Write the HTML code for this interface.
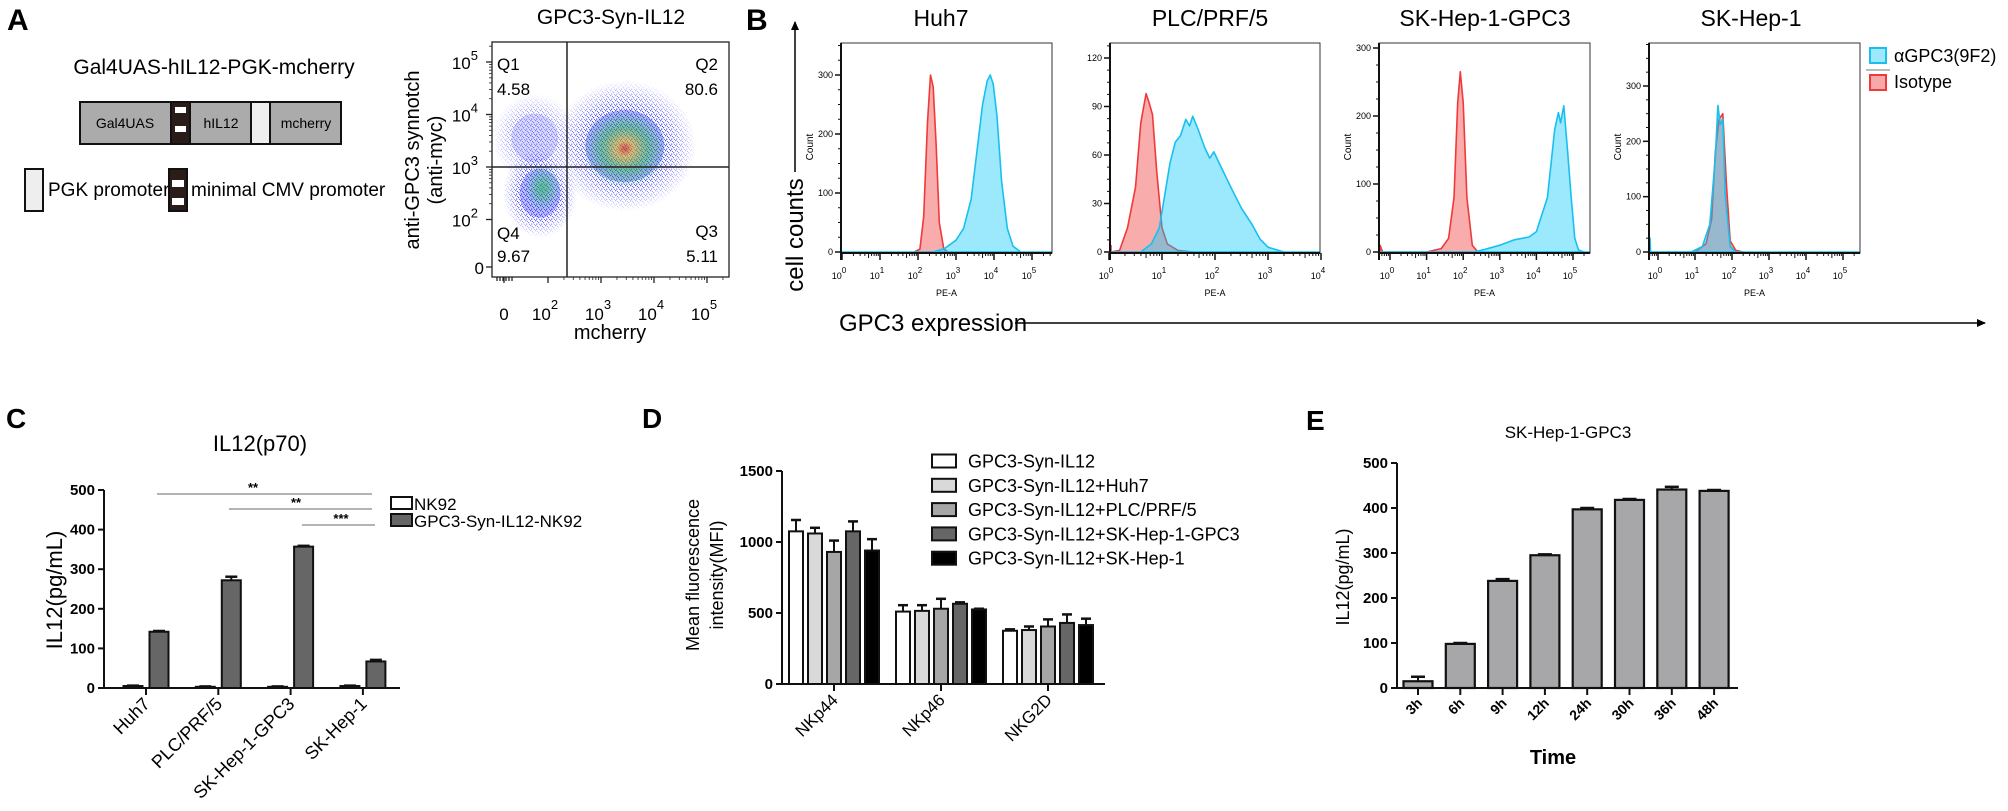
<!DOCTYPE html>
<html><head><meta charset="utf-8"><style>
html,body{margin:0;padding:0;background:#fff;}
svg{display:block;font-family:"Liberation Sans",Arial,sans-serif;}
</style></head><body>
<svg id="fig" width="2008" height="811" viewBox="0 0 2008 811" xmlns="http://www.w3.org/2000/svg">
<defs>
 <pattern id="dotpat" width="5" height="5" patternUnits="userSpaceOnUse">
  <rect x="0" y="0" width="1.3" height="1.3" fill="#1a1aff"/>
  <rect x="3" y="2" width="1.3" height="1.3" fill="#2020ee"/>
  <rect x="1" y="3.5" width="1.3" height="1.3" fill="#1a1aff"/>
  <rect x="4" y="4" width="1" height="1" fill="#3030ff"/>
  <rect x="2" y="1" width="1" height="1" fill="#1010dd"/>
 </pattern>
 <radialGradient id="fadeG"><stop offset="0" stop-color="#fff" stop-opacity="1"/><stop offset="0.6" stop-color="#fff" stop-opacity="0.75"/><stop offset="1" stop-color="#fff" stop-opacity="0"/></radialGradient>
 <radialGradient id="hotG"><stop offset="0" stop-color="#e03010" stop-opacity="0.8"/><stop offset="0.2" stop-color="#e8c020" stop-opacity="0.7"/><stop offset="0.55" stop-color="#30c040" stop-opacity="0.55"/><stop offset="1" stop-color="#20c040" stop-opacity="0"/></radialGradient>
 <radialGradient id="greenG"><stop offset="0" stop-color="#30c060" stop-opacity="0.8"/><stop offset="1" stop-color="#30c060" stop-opacity="0"/></radialGradient>
 <marker id="arrowHead" markerWidth="10" markerHeight="10" refX="8" refY="5" orient="auto" markerUnits="userSpaceOnUse"><path d="M0,1 L9,5 L0,9 Z" fill="#000"/></marker>
</defs>

<!-- Panel A -->
<text x="7" y="30" font-size="30" font-weight="bold">A</text>
<text x="214" y="74" font-size="21" text-anchor="middle">Gal4UAS-hIL12-PGK-mcherry</text>
<g stroke="#111" stroke-width="2">
 <rect x="80" y="102" width="91" height="42" fill="#ababab"/>
 <rect x="171" y="102" width="19" height="42" fill="#2a1c18"/>
 <rect x="175" y="107" width="11" height="6" fill="#fff" stroke="none"/>
 <rect x="175" y="126" width="11" height="6" fill="#fff" stroke="none"/>
 <rect x="190" y="102" width="61" height="42" fill="#ababab"/>
 <rect x="251" y="102" width="19" height="42" fill="#eeeeee"/>
 <rect x="270" y="102" width="71" height="42" fill="#ababab"/>
</g>
<text x="125" y="128" font-size="14" text-anchor="middle">Gal4UAS</text>
<text x="221" y="128" font-size="14" text-anchor="middle">hIL12</text>
<text x="306" y="128" font-size="14" text-anchor="middle">mcherry</text>
<rect x="25" y="169" width="18" height="42" fill="#eeeeee" stroke="#111" stroke-width="2"/>
<text x="48" y="196" font-size="19">PGK promoter</text>
<rect x="169" y="169" width="18" height="42" fill="#2a1c18" stroke="#111" stroke-width="2"/>
<rect x="172" y="180" width="12" height="7" fill="#fff"/>
<rect x="172" y="198" width="12" height="7" fill="#fff"/>
<text x="191" y="196" font-size="19">minimal CMV promoter</text>

<text x="611" y="24" font-size="21" text-anchor="middle">GPC3-Syn-IL12</text>
<g id="scatter"></g>
<text transform="translate(419,160) rotate(-90)" font-size="20" text-anchor="middle">anti-GPC3 synnotch</text>
<text transform="translate(442,160) rotate(-90)" font-size="20" text-anchor="middle">(anti-myc)</text>
<text x="610" y="339" font-size="20" text-anchor="middle">mcherry</text>
<text x="497" y="70" font-size="17">Q1</text>
<text x="497" y="95" font-size="17">4.58</text>
<text x="497" y="239" font-size="17">Q4</text>
<text x="497" y="262" font-size="17">9.67</text>
<text x="718" y="70" font-size="17" text-anchor="end">Q2</text>
<text x="718" y="95" font-size="17" text-anchor="end">80.6</text>
<text x="718" y="237" font-size="17" text-anchor="end">Q3</text>
<text x="718" y="262" font-size="17" text-anchor="end">5.11</text>

<!-- Panel B -->
<text x="746" y="30" font-size="30" font-weight="bold">B</text>
<text transform="translate(803,235) rotate(-90)" font-size="24" text-anchor="middle">cell counts</text>
<line x1="795" y1="172" x2="795" y2="22" stroke="#000" stroke-width="1.5" marker-end="url(#arrowHead)"/>
<text x="839" y="331" font-size="24">GPC3 expression</text>
<line x1="1015" y1="323" x2="1985" y2="323" stroke="#000" stroke-width="1.5" marker-end="url(#arrowHead)"/>
<text x="941" y="26" font-size="23" text-anchor="middle">Huh7</text>
<text x="1210" y="26" font-size="23" text-anchor="middle">PLC/PRF/5</text>
<text x="1485" y="26" font-size="23" text-anchor="middle">SK-Hep-1-GPC3</text>
<text x="1751" y="26" font-size="23" text-anchor="middle">SK-Hep-1</text>
<g id="hists"></g>
<g>
 <rect x="1870" y="48" width="16" height="15" fill="#9ee8fb" stroke="#18c0f0" stroke-width="2"/>
 <text x="1894" y="62" font-size="18">αGPC3(9F2)</text>
 <line x1="1866" y1="70" x2="1890" y2="70" stroke="#777" stroke-width="1"/>
 <rect x="1870" y="75" width="16" height="15" fill="#f7a8a8" stroke="#f03a3a" stroke-width="2"/>
 <text x="1894" y="88" font-size="18">Isotype</text>
</g>

<!-- Panel C -->
<text x="6" y="428" font-size="28" font-weight="bold">C</text>
<text x="260" y="451" font-size="22" text-anchor="middle">IL12(p70)</text>
<text transform="translate(62,590) rotate(-90)" font-size="22" text-anchor="middle">IL12(pg/mL)</text>
<g id="chartC"></g>
<rect x="391" y="497" width="21" height="12" fill="#fff" stroke="#111" stroke-width="2"/>
<text x="414" y="510" font-size="17">NK92</text>
<rect x="391" y="514" width="21" height="12" fill="#666" stroke="#111" stroke-width="2"/>
<text x="414" y="527" font-size="17">GPC3-Syn-IL12-NK92</text>
<g stroke="#888" stroke-width="1.2">
 <line x1="157" y1="494" x2="372" y2="494"/>
 <line x1="229" y1="509" x2="372" y2="509"/>
 <line x1="302" y1="525" x2="375" y2="525"/>
</g>
<text x="253" y="492" font-size="13" text-anchor="middle" font-weight="bold">**</text>
<text x="296" y="507" font-size="13" text-anchor="middle" font-weight="bold">**</text>
<text x="341" y="523" font-size="13" text-anchor="middle" font-weight="bold">***</text>

<!-- Panel D -->
<text x="642" y="428" font-size="28" font-weight="bold">D</text>
<text transform="translate(699,575) rotate(-90)" font-size="18" text-anchor="middle">Mean fluorescence</text>
<text transform="translate(723,575) rotate(-90)" font-size="18" text-anchor="middle">intensity(MFI)</text>
<g id="chartD"></g>

<!-- Panel E -->
<text x="1306" y="430" font-size="28" font-weight="bold">E</text>
<text x="1568" y="438" font-size="17" text-anchor="middle">SK-Hep-1-GPC3</text>
<text transform="translate(1349,577) rotate(-90)" font-size="18" text-anchor="middle">IL12(pg/mL)</text>
<text x="1553" y="764" font-size="20" font-weight="bold" text-anchor="middle">Time</text>
<g id="chartE"></g>
</svg>

<script>
// ===== Chart C data =====
const cCategories = ['Huh7', 'PLC/PRF/5', 'SK-Hep-1-GPC3', 'SK-Hep-1'];
const cNK92 = [5, 3, 3, 5];
const cNK92Err = [1, 1, 1, 1];
const cSyn = [142, 272, 357, 67];
const cSynErr = [2, 9, 2, 4];
const cTicks = [0, 100, 200, 300, 400, 500];

// ===== Chart D data =====
const dCategories = ['NKp44', 'NKp46', 'NKG2D'];
const dSeriesNames = ['GPC3-Syn-IL12', 'GPC3-Syn-IL12+Huh7', 'GPC3-Syn-IL12+PLC/PRF/5', 'GPC3-Syn-IL12+SK-Hep-1-GPC3', 'GPC3-Syn-IL12+SK-Hep-1'];
const dSyn = [1075, 510, 375];
const dHuh7 = [1060, 515, 380];
const dPLC = [930, 530, 405];
const dSKGPC3 = [1075, 565, 430];
const dSK1 = [940, 525, 415];
const dSynErr = [80, 45, 10];
const dHuh7Err = [40, 40, 25];
const dPLCErr = [80, 70, 50];
const dSKGPC3Err = [70, 10, 60];
const dSK1Err = [80, 5, 45];
const dTicks = [0, 500, 1000, 1500];

// ===== Chart E data =====
const eCategories = ['3h', '6h', '9h', '12h', '24h', '30h', '36h', '48h'];
const eValues = [15, 98, 238, 295, 397, 418, 441, 438];
const eErr = [10, 2, 4, 2, 3, 2, 6, 2];
const eTicks = [0, 100, 200, 300, 400, 500];

// ===== Histogram data: [log10(PE-A), count] =====
const huh7Isotype = [[1.9,0],[2.05,5],[2.15,60],[2.25,220],[2.33,300],[2.4,280],[2.48,180],[2.56,50],[2.68,5],[2.8,0]];
const huh7GPC3 = [[2.4,0],[2.7,6],[3.0,20],[3.2,40],[3.4,90],[3.55,170],[3.7,250],[3.82,290],[3.9,300],[3.98,285],[4.08,230],[4.2,120],[4.35,40],[4.5,10],[4.7,0]];
const plcIsotype = [[-0.15,4],[0.0,0],[0.2,1],[0.35,15],[0.5,40],[0.6,80],[0.7,98],[0.76,92],[0.82,85],[0.9,50],[1.0,15],[1.1,5],[1.3,1],[1.6,0]];
const plcGPC3 = [[0.6,0],[0.8,5],[0.95,15],[1.05,35],[1.15,55],[1.25,68],[1.35,72],[1.45,82],[1.52,78],[1.58,84],[1.68,76],[1.8,65],[1.9,58],[1.98,62],[2.08,55],[2.3,40],[2.5,27],[2.7,17],[2.85,8],[3.0,3],[3.3,0]];
const skgIsotype = [[-0.3,10],[-0.2,0],[1.0,0],[1.4,5],[1.6,20],[1.75,80],[1.85,220],[1.92,265],[2.0,220],[2.1,80],[2.25,10],[2.4,0]];
const skgGPC3 = [[2.3,0],[2.6,4],[3.0,10],[3.4,18],[3.8,22],[4.0,30],[4.3,80],[4.5,180],[4.6,205],[4.66,190],[4.75,215],[4.85,150],[4.95,80],[5.05,20],[5.15,3],[5.3,0]];
const sk1Isotype = [[1.0,0],[1.3,15],[1.45,60],[1.55,180],[1.65,240],[1.75,250],[1.85,120],[1.95,20],[2.1,3],[2.3,0]];
const sk1GPC3 = [[-0.3,25],[-0.2,0],[0.9,0],[1.2,10],[1.4,50],[1.55,170],[1.62,265],[1.68,230],[1.75,240],[1.82,100],[1.95,10],[2.1,0]];

// ===== Scatter density clusters: [log mcherry, log anti-myc, spread x (decades), spread y (decades), density] =====
const scatterClusters = [[3.45, 3.4, 1.35, 1.25, 1.0], [1.85, 2.5, 0.7, 0.85, 0.95], [1.75, 3.55, 0.8, 0.85, 0.55]];
const scatterHotspots = [[3.45, 3.35, 0.8, 0.75], [1.9, 2.6, 0.35, 0.45]];

const NS = 'http://www.w3.org/2000/svg';
function mk(tag, parent) { const e = document.createElementNS(NS, tag); parent.appendChild(e); return e; }
function set(e, o) { for (const k in o) e.setAttribute(k, o[k]); return e; }

// ---------- Scatter ----------
(function () {
  const g = document.getElementById('scatter');
  const L = 492, R = 729, T = 42, B = 277;
  const sx = lg => 548 + (lg - 2) * 53;
  const sy = lg => 167 - (lg - 3) * 52.5;
  const clip = mk('clipPath', document.querySelector('defs'));
  set(clip, { id: 'scClip' });
  set(mk('rect', clip), { x: L, y: T, width: R - L, height: B - T });
  const inner = mk('g', g); set(inner, { 'clip-path': 'url(#scClip)' });
  scatterClusters.forEach((c, i) => {
    const m = mk('mask', document.querySelector('defs'));
    set(m, { id: 'scm' + i });
    set(mk('ellipse', m), { cx: sx(c[0]), cy: sy(c[1]), rx: c[2] * 53, ry: c[3] * 52.5, fill: 'url(#fadeG)' });
    const r = mk('rect', inner);
    set(r, { x: L, y: T, width: R - L, height: B - T, fill: 'url(#dotpat)', mask: 'url(#scm' + i + ')', opacity: c[4] });
    
    
    const e = mk('ellipse', inner);
    set(e, { cx: sx(c[0]), cy: sy(c[1]), rx: c[2] * 53 * 0.55, ry: c[3] * 52.5 * 0.55, fill: '#2a2aff', opacity: 0.3 * c[4] });
  });
  scatterHotspots.forEach(h => {
    const e = mk('ellipse', inner);
    set(e, { cx: sx(h[0]), cy: sy(h[1]), rx: h[2] * 53, ry: h[3] * 52.5, fill: h[2] > 0.5 ? 'url(#hotG)' : 'url(#greenG)', opacity: 0.9 });
    
    
  });
  set(mk('rect', g), { x: L, y: T, width: R - L, height: B - T, fill: 'none', stroke: '#222', 'stroke-width': 1.3 });
  set(mk('line', g), { x1: 567, y1: T, x2: 567, y2: B, stroke: '#222', 'stroke-width': 1.5 });
  set(mk('line', g), { x1: L, y1: 167, x2: R, y2: 167, stroke: '#222', 'stroke-width': 1.5 });
  const yTickLabels = ['0', '2', '3', '4', '5'];
  const yTickPos = [267, sy(2), sy(3), sy(4), sy(5)];
  yTickLabels.forEach((lab, i) => {
    const y = yTickPos[i];
    set(mk('line', g), { x1: L - 6, y1: y, x2: L, y2: y, stroke: '#222', 'stroke-width': 1.3 });
    const t = mk('text', g);
    set(t, { x: L - 14, y: y + 7, 'font-size': 17, 'text-anchor': 'end' });
    
    
    if (lab === '0') { t.setAttribute('x', L - 8); t.textContent = '0'; }
    else { t.textContent = '10'; const s = mk('tspan', t); set(s, { dy: -9, 'font-size': 13 }); s.textContent = lab; }
    if (i > 0) for (let k = 2; k < 10; k++) { const yy = y - Math.log10(k) * 52.5; if (yy > T) set(mk('line', g), { x1: L - 3, y1: yy, x2: L, y2: yy, stroke: '#222', 'stroke-width': 0.8 }); }
  });
  const xTickLabels = ['0', '2', '3', '4', '5'];
  const xTickPos = [504, sx(2), sx(3), sx(4), sx(5)];
  xTickLabels.forEach((lab, i) => {
    const x = xTickPos[i];
    set(mk('line', g), { x1: x, y1: B, x2: x, y2: B + 6, stroke: '#222', 'stroke-width': 1.3 });
    const t = mk('text', g);
    set(t, { x: x - 3, y: 320, 'font-size': 17, 'text-anchor': 'middle' });
    
    
    if (lab === '0') { t.setAttribute('x', x); t.textContent = '0'; }
    else { t.textContent = '10'; const s = mk('tspan', t); set(s, { dy: -11, 'font-size': 13 }); s.textContent = lab; }
    if (i > 0) for (let k = 2; k < 10; k++) { const xx = x + Math.log10(k) * 53; if (xx < R) set(mk('line', g), { x1: xx, y1: B, x2: xx, y2: B + 3, stroke: '#222', 'stroke-width': 0.8 }); }
  });
  for (let k = 0; k < 6; k++) set(mk('line', g), { x1: 497 + k * 3, y1: B, x2: 497 + k * 3, y2: B + 4, stroke: '#222', 'stroke-width': 1.3 });
})();

// ---------- Histograms ----------
(function () {
  const g = document.getElementById('hists');
  const panels = [
    { name: 'huh7', L: 841, R: 1052, T: 43, B: 253, x0: 842, dec: 38, ppc: 177 / 300, yt: [0, 100, 200, 300], xd: [0, 1, 2, 3, 4, 5], iso: huh7Isotype, pos: huh7GPC3 },
    { name: 'plc', L: 1110, R: 1320, T: 43, B: 253, x0: 1109, dec: 53, ppc: 194 / 120, yt: [0, 30, 60, 90, 120], xd: [0, 1, 2, 3, 4], iso: plcIsotype, pos: plcGPC3 },
    { name: 'skgpc3', L: 1379, R: 1590, T: 43, B: 253, x0: 1390, dec: 36.6, ppc: 204 / 300, yt: [0, 100, 200, 300], xd: [0, 1, 2, 3, 4, 5], iso: skgIsotype, pos: skgGPC3 },
    { name: 'skhep1', L: 1649, R: 1860, T: 43, B: 253, x0: 1658, dec: 37, ppc: 166 / 300, yt: [0, 100, 200, 300], xd: [0, 1, 2, 3, 4, 5], iso: sk1Isotype, pos: sk1GPC3 }
  ];
  panels.forEach(p => {
    const base = p.B - 1;
    const hx = v => Math.max(p.L + 1, Math.min(p.R - 1, p.x0 + v * p.dec));
    const hy = c => base - c * p.ppc;
    const pg = mk('g', g);
    
    
    const series = [[p.iso, 'rgba(240,70,70,0.45)', '#f03a3a', 'isotype'], [p.pos, 'rgba(20,200,250,0.42)', '#18c0f0', 'agpc3']];
    series.forEach(s => {
      let d = 'M' + hx(s[0][0][0]) + ',' + base;
      s[0].forEach(pt => { d += ' L' + hx(pt[0]).toFixed(1) + ',' + hy(pt[1]).toFixed(1); });
      d += ' L' + hx(s[0][s[0].length - 1][0]) + ',' + base + ' Z';
      const path = mk('path', pg);
      set(path, { d: d, fill: s[1], stroke: s[2], 'stroke-width': 1.6, 'stroke-linejoin': 'round' });
      
      
    });
    set(mk('line', pg), { x1: p.L, y1: base, x2: p.R, y2: base, stroke: '#18c0f0', 'stroke-width': 1.6 });
    set(mk('rect', pg), { x: p.L, y: p.T, width: p.R - p.L, height: p.B - p.T, fill: 'none', stroke: '#333', 'stroke-width': 1 });
    set(mk('line', pg), { x1: p.L, y1: p.T, x2: p.L, y2: p.B + 7, stroke: '#111', 'stroke-width': 2 });
    set(mk('line', pg), { x1: p.L, y1: p.B, x2: p.R, y2: p.B, stroke: '#111', 'stroke-width': 2 });
    const ystep = p.yt[1] - p.yt[0];
    for (let v = 0; hy(v) > p.T; v += ystep / 4) set(mk('line', pg), { x1: p.L - 3, y1: hy(v), x2: p.L, y2: hy(v), stroke: '#111', 'stroke-width': 1 });
    p.yt.forEach(v => {
      set(mk('line', pg), { x1: p.L - 6, y1: hy(v), x2: p.L, y2: hy(v), stroke: '#111', 'stroke-width': 1.5 });
      const t = mk('text', pg);
      set(t, { x: p.L - 8, y: hy(v) + 3, 'font-size': 9, 'text-anchor': 'end' });
      
      
      t.textContent = v;
    });
    p.xd.forEach(dd => {
      const x = p.x0 + dd * p.dec;
      if (x >= p.L - 1 && x <= p.R + 1) set(mk('line', pg), { x1: x, y1: p.B, x2: x, y2: p.B + 7, stroke: '#111', 'stroke-width': 1.5 });
      for (let k = 2; k < 10; k++) { const xx = x + Math.log10(k) * p.dec; if (xx > p.L && xx < p.R) set(mk('line', pg), { x1: xx, y1: p.B, x2: xx, y2: p.B + (k === 5 ? 5 : 3), stroke: '#111', 'stroke-width': 1 }); }
      for (let k = 2; k < 10; k++) { const xx = x - (1 - Math.log10(k)) * p.dec; if (dd === 0 && xx > p.L && xx < p.R) set(mk('line', pg), { x1: xx, y1: p.B, x2: xx, y2: p.B + 3, stroke: '#111', 'stroke-width': 1 }); }
      const t = mk('text', pg);
      set(t, { x: x - 3, y: 279, 'font-size': 9, 'text-anchor': 'middle' });
      
      
      t.textContent = '10';
      const s = mk('tspan', t); set(s, { dy: -6, 'font-size': 8 }); s.textContent = dd;
    });
    const xl = mk('text', pg);
    set(xl, { x: (p.L + p.R) / 2, y: 296, 'font-size': 9, 'text-anchor': 'middle' });
    
    
    xl.textContent = 'PE-A';
    if (p.name !== 'plc') {
      const yl = mk('text', pg);
      set(yl, { transform: 'translate(' + (p.L - 28) + ',147) rotate(-90)', 'font-size': 10, 'text-anchor': 'middle' });
      
      
      yl.textContent = 'Count';
    }
  });
})();

function errBar(g, x, yTop, yErr, cap) {
  set(mk('line', g), { x1: x, y1: yTop, x2: x, y2: yErr, stroke: '#111', 'stroke-width': 2 });
  set(mk('line', g), { x1: x - cap, y1: yErr, x2: x + cap, y2: yErr, stroke: '#111', 'stroke-width': 2.5 });
}

// ---------- Chart C ----------
(function () {
  const g = document.getElementById('chartC');
  const cy = v => 688 - v * 198 / 500;
  const cx = i => 146 + i * 72.3;
  const bw = 19;
  cCategories.forEach((cat, i) => {
    [[cNK92, cNK92Err, '#fff', -13, 'nk92'], [cSyn, cSynErr, '#666', 13, 'syn']].forEach(s => {
      const x = cx(i) + s[3];
      errBar(g, x, cy(s[0][i]), cy(s[0][i] + s[1][i]), 6);
      const r = mk('rect', g);
      set(r, { x: x - bw / 2, y: cy(s[0][i]), width: bw, height: Math.max(1, 688 - cy(s[0][i])), fill: s[2], stroke: '#111', 'stroke-width': 2 });
      
      
    });
    set(mk('line', g), { x1: cx(i), y1: 688, x2: cx(i), y2: 695, stroke: '#111', 'stroke-width': 2 });
    const t = mk('text', g);
    set(t, { x: cx(i) + 5, y: 705, 'font-size': 18, 'text-anchor': 'end', transform: 'rotate(-45,' + (cx(i) + 5) + ',705)' });
    
    
    t.textContent = cat;
  });
  set(mk('line', g), { x1: 104, y1: cy(500), x2: 104, y2: 688, stroke: '#111', 'stroke-width': 2 });
  set(mk('line', g), { x1: 103, y1: 688, x2: 400, y2: 688, stroke: '#111', 'stroke-width': 2 });
  cTicks.forEach(v => {
    set(mk('line', g), { x1: 98, y1: cy(v), x2: 104, y2: cy(v), stroke: '#111', 'stroke-width': 2 });
    const t = mk('text', g);
    set(t, { x: 95, y: cy(v) + 5, 'font-size': 15, 'font-weight': 'bold', 'text-anchor': 'end' });
    
    
    t.textContent = v;
  });
})();

// ---------- Chart D ----------
(function () {
  const g = document.getElementById('chartD');
  const dy = v => 684 - v * 213 / 1500;
  const gx = i => 834 + i * 107;
  const vals = [dSyn, dHuh7, dPLC, dSKGPC3, dSK1];
  const errs = [dSynErr, dHuh7Err, dPLCErr, dSKGPC3Err, dSK1Err];
  const fills = ['#fff', '#d9d9d9', '#a6a6a6', '#666', '#000'];
  const bw = 14;
  dCategories.forEach((cat, i) => {
    vals.forEach((s, j) => {
      const x = gx(i) + (j - 2) * 19;
      errBar(g, x, dy(s[i]), dy(s[i] + errs[j][i]), 5);
      const r = mk('rect', g);
      set(r, { x: x - bw / 2, y: dy(s[i]), width: bw, height: 684 - dy(s[i]), fill: fills[j], stroke: '#111', 'stroke-width': 2 });
      
      
    });
    set(mk('line', g), { x1: gx(i), y1: 684, x2: gx(i), y2: 691, stroke: '#111', 'stroke-width': 2 });
    const t = mk('text', g);
    set(t, { x: gx(i) + 5, y: 701, 'font-size': 17, 'text-anchor': 'end', transform: 'rotate(-45,' + (gx(i) + 5) + ',701)' });
    
    
    t.textContent = cat;
  });
  set(mk('line', g), { x1: 782, y1: dy(1500), x2: 782, y2: 684, stroke: '#111', 'stroke-width': 2 });
  set(mk('line', g), { x1: 781, y1: 684, x2: 1105, y2: 684, stroke: '#111', 'stroke-width': 2 });
  dTicks.forEach(v => {
    set(mk('line', g), { x1: 776, y1: dy(v), x2: 782, y2: dy(v), stroke: '#111', 'stroke-width': 2 });
    const t = mk('text', g);
    set(t, { x: 773, y: dy(v) + 5, 'font-size': 15, 'font-weight': 'bold', 'text-anchor': 'end' });
    
    
    t.textContent = v;
  });
  dSeriesNames.forEach((nm, j) => {
    const yc = 461 + j * 24.3;
    const r = mk('rect', g);
    set(r, { x: 932, y: yc - 6.5, width: 24, height: 13, fill: fills[j], stroke: '#111', 'stroke-width': 2 });
    
    
    const t = mk('text', g);
    set(t, { x: 968, y: yc + 6.5, 'font-size': 18 });
    
    
    t.textContent = nm;
  });
})();

// ---------- Chart E ----------
(function () {
  const g = document.getElementById('chartE');
  const ey = v => 688 - v * 225 / 500;
  const ex = i => 1418 + i * 42.3;
  const bw = 29;
  eCategories.forEach((cat, i) => {
    errBar(g, ex(i), ey(eValues[i]), ey(eValues[i] + eErr[i]), 7);
    const r = mk('rect', g);
    set(r, { x: ex(i) - bw / 2, y: ey(eValues[i]), width: bw, height: 688 - ey(eValues[i]), fill: '#a7a7aa', stroke: '#111', 'stroke-width': 2.2 });
    
    
    set(mk('line', g), { x1: ex(i), y1: 688, x2: ex(i), y2: 695, stroke: '#111', 'stroke-width': 2 });
    const t = mk('text', g);
    set(t, { x: ex(i) + 5, y: 704, 'font-size': 14, 'font-weight': 'bold', 'text-anchor': 'end', transform: 'rotate(-45,' + (ex(i) + 5) + ',704)' });
    
    
    t.textContent = cat;
  });
  set(mk('line', g), { x1: 1397, y1: ey(500), x2: 1397, y2: 688, stroke: '#111', 'stroke-width': 2 });
  set(mk('line', g), { x1: 1396, y1: 688, x2: 1738, y2: 688, stroke: '#111', 'stroke-width': 2 });
  eTicks.forEach(v => {
    set(mk('line', g), { x1: 1391, y1: ey(v), x2: 1397, y2: ey(v), stroke: '#111', 'stroke-width': 2 });
    const t = mk('text', g);
    set(t, { x: 1388, y: ey(v) + 5, 'font-size': 15, 'font-weight': 'bold', 'text-anchor': 'end' });
    
    
    t.textContent = v;
  });
})();
</script>
</body></html>
